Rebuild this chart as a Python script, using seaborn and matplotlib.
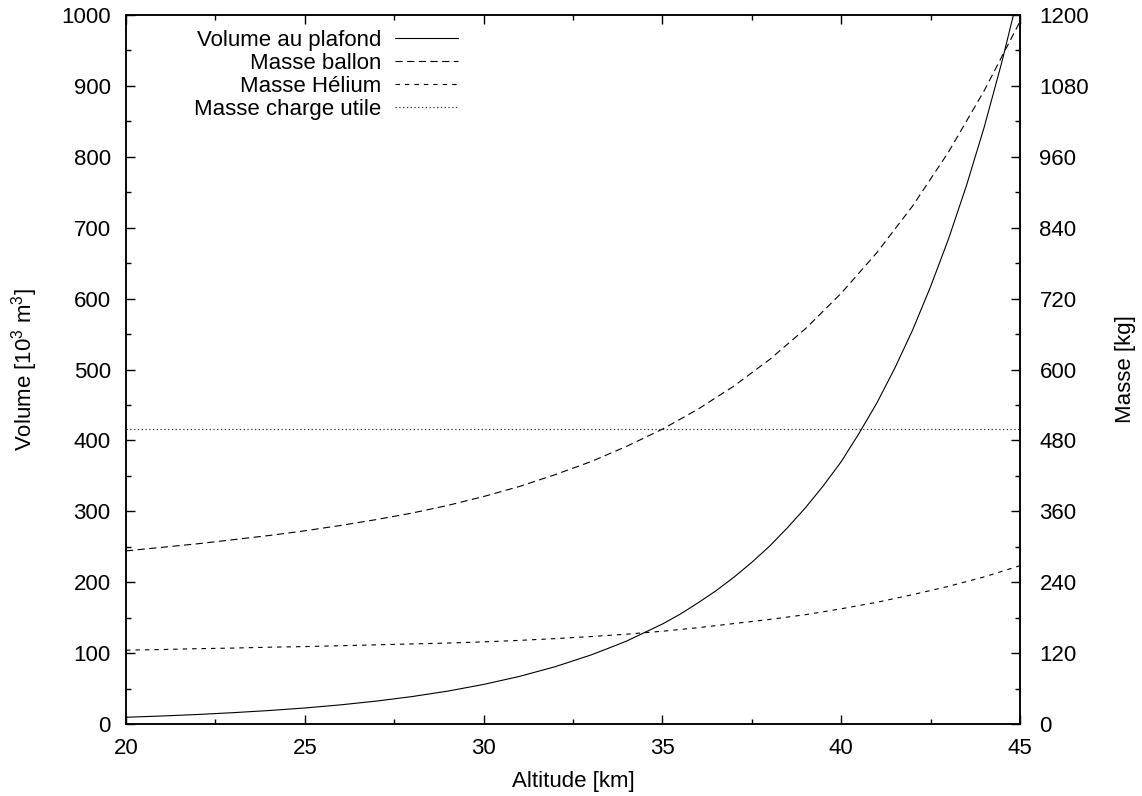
import matplotlib
matplotlib.use("Agg")
import matplotlib.pyplot as plt
from matplotlib.ticker import MultipleLocator
import pandas as pd
import seaborn as sns

# values
altitude_km = list(range(20, 46))
masse_ballon = [293, 299, 305, 312, 319, 327, 336, 346, 357, 370, 385, 402, 422, 444, 470,
                499, 533, 572, 617, 669, 729, 798, 877, 968, 1072, 1189]
masse_helium = [125, 126, 127.5, 128.5, 130, 131, 132.5, 134, 135.5, 137, 139, 141.5, 144.5,
                148, 152, 157, 163, 170, 177, 185, 195, 206, 219, 233, 249, 268]

# the volume curve is read more finely where it climbs steeply
volume_alt = [20, 21, 22, 23, 24, 25, 26, 27, 28, 29, 30, 31, 32, 33,
              33.5, 34, 34.5, 35, 35.5, 36, 36.5, 37, 37.5, 38, 38.5, 39, 39.5,
              40, 40.5, 41, 41.5, 42, 42.5, 43, 43.5, 44, 44.5, 45]
volume_plafond = [9.5, 11.3, 13.4, 16.0, 19.0, 22.6, 27.0, 32.3, 38.7, 46.4, 55.8, 67.1, 80.8, 97.3,
                  107, 117, 129, 141, 155, 171, 188, 207, 228, 251, 277, 305, 336,
                  370, 410, 453, 502, 556, 617, 684, 759, 842, 935, 1038]

charge_alt = [20, 45]
masse_charge_utile = [500, 500]

labels = ["Volume au plafond", "Masse ballon", "Masse Hélium", "Masse charge utile"]

df_vol = pd.DataFrame({"alt": volume_alt, "vol": volume_plafond})
df_masse = pd.DataFrame({"alt": altitude_km, "ballon": masse_ballon, "helium": masse_helium})
df_charge = pd.DataFrame({"alt": charge_alt, "charge": masse_charge_utile})

sns.set_style("ticks", {"axes.edgecolor": "black", "xtick.color": "black", "ytick.color": "black",
                        "text.color": "black", "axes.labelcolor": "black"})
plt.rcParams["font.family"] = ["Liberation Sans", "DejaVu Sans"]
plt.rcParams["mathtext.fontset"] = "custom"
plt.rcParams["mathtext.rm"] = "Liberation Sans"
plt.rcParams["mathtext.it"] = "Liberation Sans:italic"
plt.rcParams["font.size"] = 16

fig, ax = plt.subplots(figsize=(11.42, 7.96), dpi=100)
fig.subplots_adjust(left=126 / 1142, right=1020 / 1142, top=1 - 15 / 796, bottom=1 - 724 / 796)
ax2 = ax.twinx()

lw = 0.8
sns.lineplot(data=df_vol, x="alt", y="vol", color="black", lw=lw, legend=False, ax=ax)
sns.lineplot(data=df_masse, x="alt", y="ballon", color="black", lw=lw, legend=False, ax=ax2,
             linestyle=(0, (6.5, 4)))
sns.lineplot(data=df_masse, x="alt", y="helium", color="black", lw=lw, legend=False, ax=ax2,
             linestyle=(0, (4, 4.5)))
sns.lineplot(data=df_charge, x="alt", y="charge", color="#333333", lw=lw, legend=False, ax=ax2,
             linestyle=(0, (1.2, 2.2)))

ax.set_xlim(20, 45)
ax.set_ylim(0, 1000)
ax2.set_ylim(0, 1200)

ax.xaxis.set_major_locator(MultipleLocator(5))
ax.xaxis.set_minor_locator(MultipleLocator(2.5))
ax.yaxis.set_major_locator(MultipleLocator(100))
ax.yaxis.set_minor_locator(MultipleLocator(50))
ax2.yaxis.set_major_locator(MultipleLocator(120))
ax2.yaxis.set_minor_locator(MultipleLocator(60))

ax.tick_params(axis="x", which="both", direction="in", top=True, bottom=True, pad=10)
ax.tick_params(axis="y", which="both", direction="in", left=True, right=False, pad=11)
ax2.tick_params(axis="y", which="both", direction="in", right=True, left=False, pad=14)
for a in (ax, ax2):
    a.tick_params(which="major", length=6.5, width=1, labelsize=16)
    a.tick_params(which="minor", length=3.3, width=1)
    for s in a.spines.values():
        s.set_linewidth(1.1)
        s.set_color("black")

ax.set_xlabel("Altitude [km]", fontsize=16, labelpad=9)
ax.set_ylabel("Volume [10$^3$ m$^3$]", fontsize=16, labelpad=15)
ax2.set_ylabel("Masse [kg]", fontsize=16, labelpad=19)

handles = [ax.lines[0], ax2.lines[0], ax2.lines[1], ax2.lines[2]]
ax2.legend(handles, labels, loc="upper right", bbox_to_anchor=(0.3714, 0.979),
           frameon=False, markerfirst=False, handlelength=2.85, handletextpad=0.6,
           labelspacing=0.085, borderpad=0, borderaxespad=0, fontsize=16)

fig.savefig("out.png", dpi=100)
